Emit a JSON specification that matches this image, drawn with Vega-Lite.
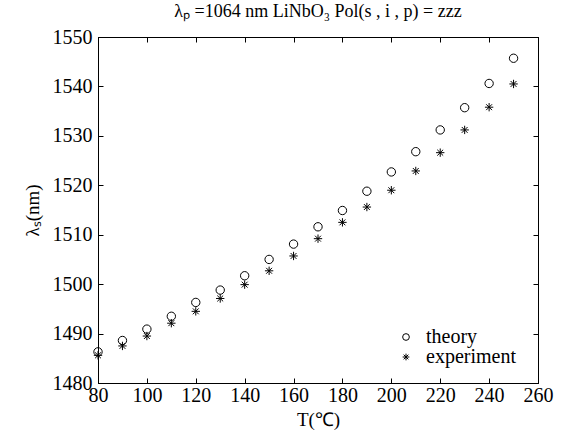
{
  "$schema": "https://vega.github.io/schema/vega-lite/v6.json",
  "width": 440,
  "height": 346,
  "autosize": {"type": "none"},
  "padding": {"left": 98, "top": 37, "right": 25, "bottom": 62},
  "background": "white",
  "config": {
    "view": {"stroke": "black", "strokeWidth": 1}
  },
  "title": {"text": "λₚ =1064 nm LiNbO₃ Pol(s , i , p) = zzz", "font": "serif", "fontSize": 18, "fontWeight": "normal", "color": "black", "offset": 6, "anchor": "middle"},
  "data": {"values": [
    {"T": 80, "s": "theory", "v": 1486.3},
    {"T": 90, "s": "theory", "v": 1488.6},
    {"T": 100, "s": "theory", "v": 1490.9},
    {"T": 110, "s": "theory", "v": 1493.5},
    {"T": 120, "s": "theory", "v": 1496.3},
    {"T": 130, "s": "theory", "v": 1498.8},
    {"T": 140, "s": "theory", "v": 1501.7},
    {"T": 150, "s": "theory", "v": 1505.0},
    {"T": 160, "s": "theory", "v": 1508.1},
    {"T": 170, "s": "theory", "v": 1511.6},
    {"T": 180, "s": "theory", "v": 1514.9},
    {"T": 190, "s": "theory", "v": 1518.8},
    {"T": 200, "s": "theory", "v": 1522.7},
    {"T": 210, "s": "theory", "v": 1526.8},
    {"T": 220, "s": "theory", "v": 1531.2},
    {"T": 230, "s": "theory", "v": 1535.7},
    {"T": 240, "s": "theory", "v": 1540.6},
    {"T": 250, "s": "theory", "v": 1545.7},
    {"T": 80, "s": "experiment", "v": 1485.6},
    {"T": 90, "s": "experiment", "v": 1487.5},
    {"T": 100, "s": "experiment", "v": 1489.5},
    {"T": 110, "s": "experiment", "v": 1492.1},
    {"T": 120, "s": "experiment", "v": 1494.5},
    {"T": 130, "s": "experiment", "v": 1497.1},
    {"T": 140, "s": "experiment", "v": 1499.9},
    {"T": 150, "s": "experiment", "v": 1502.7},
    {"T": 160, "s": "experiment", "v": 1505.7},
    {"T": 170, "s": "experiment", "v": 1509.2},
    {"T": 180, "s": "experiment", "v": 1512.5},
    {"T": 190, "s": "experiment", "v": 1515.6},
    {"T": 200, "s": "experiment", "v": 1519.0},
    {"T": 210, "s": "experiment", "v": 1522.9},
    {"T": 220, "s": "experiment", "v": 1526.6},
    {"T": 230, "s": "experiment", "v": 1531.2},
    {"T": 240, "s": "experiment", "v": 1535.8},
    {"T": 250, "s": "experiment", "v": 1540.5}
  ]},
  "layer": [
    {
      "mark": {"type": "point", "filled": false, "stroke": "black", "strokeWidth": 1, "size": 70, "opacity": 1},
      "encoding": {
        "x": {"field": "T", "type": "quantitative", "scale": {"domain": [80, 260], "nice": false}, "axis": {"title": "T(℃)", "format": "d", "values": [80,100,120,140,160,180,200,220,240,260], "titlePadding": 5, "grid": false, "domainColor": "black", "tickColor": "black", "labelColor": "black", "titleColor": "black", "labelFont": "serif", "titleFont": "serif", "labelFontSize": 20, "titleFontSize": 19, "titleFontWeight": "normal", "tickSize": -5, "labelPadding": 7, "labelOverlap": false, "labelFlush": false, "labelBound": false}},
        "y": {"field": "v", "type": "quantitative", "scale": {"domain": [1480, 1550], "nice": false, "zero": false}, "axis": {"title": "λₛ(nm)", "format": "d", "values": [1480,1490,1500,1510,1520,1530,1540,1550], "titlePadding": 10, "grid": false, "domainColor": "black", "tickColor": "black", "labelColor": "black", "titleColor": "black", "labelFont": "serif", "titleFont": "serif", "labelFontSize": 20, "titleFontSize": 19, "titleFontWeight": "normal", "tickSize": -5, "labelPadding": 11, "labelOverlap": false, "labelFlush": false, "labelBound": false}},
        "shape": {"field": "s", "type": "nominal", "scale": {"domain": ["theory", "experiment"], "range": ["circle", "M0,-1L0,1M-1,0L1,0M-0.7,-0.7L0.7,0.7M-0.7,0.7L0.7,-0.7"]},
          "legend": {"title": null, "orient": "none", "legendX": 298, "legendY": 290, "labelFontSize": 20, "labelFont": "serif", "labelColor": "black", "symbolSize": 45, "symbolStrokeColor": "black", "symbolStrokeWidth": 1, "rowPadding": 0, "labelOffset": 10}}
      }
    },
    {
      "mark": {"type": "point", "opacity": 0},
      "encoding": {
        "x": {"field": "T", "type": "quantitative", "axis": {"orient": "top", "title": null, "labels": false, "grid": false, "domainColor": "black", "tickColor": "black", "tickSize": -5, "values": [80,100,120,140,160,180,200,220,240,260]}},
        "y": {"field": "v", "type": "quantitative", "axis": {"orient": "right", "title": null, "labels": false, "grid": false, "domainColor": "black", "tickColor": "black", "tickSize": -5, "values": [1480,1490,1500,1510,1520,1530,1540,1550]}}
      }
    }
  ],
  "resolve": {"axis": {"x": "independent", "y": "independent"}}
}
